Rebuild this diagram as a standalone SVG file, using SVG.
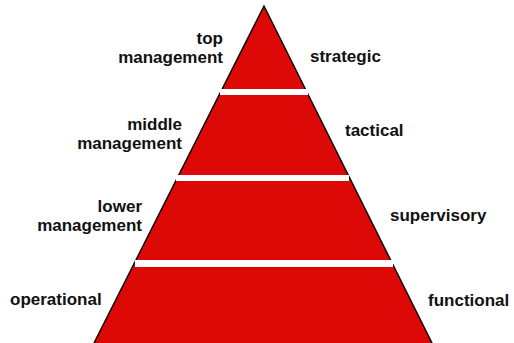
<svg xmlns="http://www.w3.org/2000/svg" width="514" height="343" viewBox="0 0 514 343">
  <style>
    .lbl { font-family: "Liberation Sans", Arial, sans-serif; font-weight: bold; font-size: 17px; fill: #111; }
    .l { text-anchor: end; }
    .r { text-anchor: start; }
    .body { fill: #dc0906; stroke: #000; stroke-width: 1.4; stroke-linejoin: miter; }
    .gap { fill: #fff; }
  </style>

  <!-- pyramid body split into four tiers by white gaps -->
  <g id="pyramid">
    <polygon class="body" points="264,6 434,347 92,347"/>
    <rect class="gap" x="220" y="89" width="88" height="6"/>
    <rect class="gap" x="176" y="175" width="173" height="6"/>
    <rect class="gap" x="135" y="260" width="258" height="7"/>
  </g>

  <!-- tier 1 -->
  <g id="tier-top">
    <text class="lbl l" x="223" y="44">top</text>
    <text class="lbl l" x="223" y="62.5">management</text>
    <text class="lbl r" x="310" y="62">strategic</text>
  </g>

  <!-- tier 2 -->
  <g id="tier-middle">
    <text class="lbl l" x="182" y="130">middle</text>
    <text class="lbl l" x="182" y="148.5">management</text>
    <text class="lbl r" x="345" y="136">tactical</text>
  </g>

  <!-- tier 3 -->
  <g id="tier-lower">
    <text class="lbl l" x="142" y="212">lower</text>
    <text class="lbl l" x="142" y="230.5">management</text>
    <text class="lbl r" x="390" y="221">supervisory</text>
  </g>

  <!-- tier 4 -->
  <g id="tier-base">
    <text class="lbl r" x="10" y="305">operational</text>
    <text class="lbl r" x="428" y="306">functional</text>
  </g>
</svg>
